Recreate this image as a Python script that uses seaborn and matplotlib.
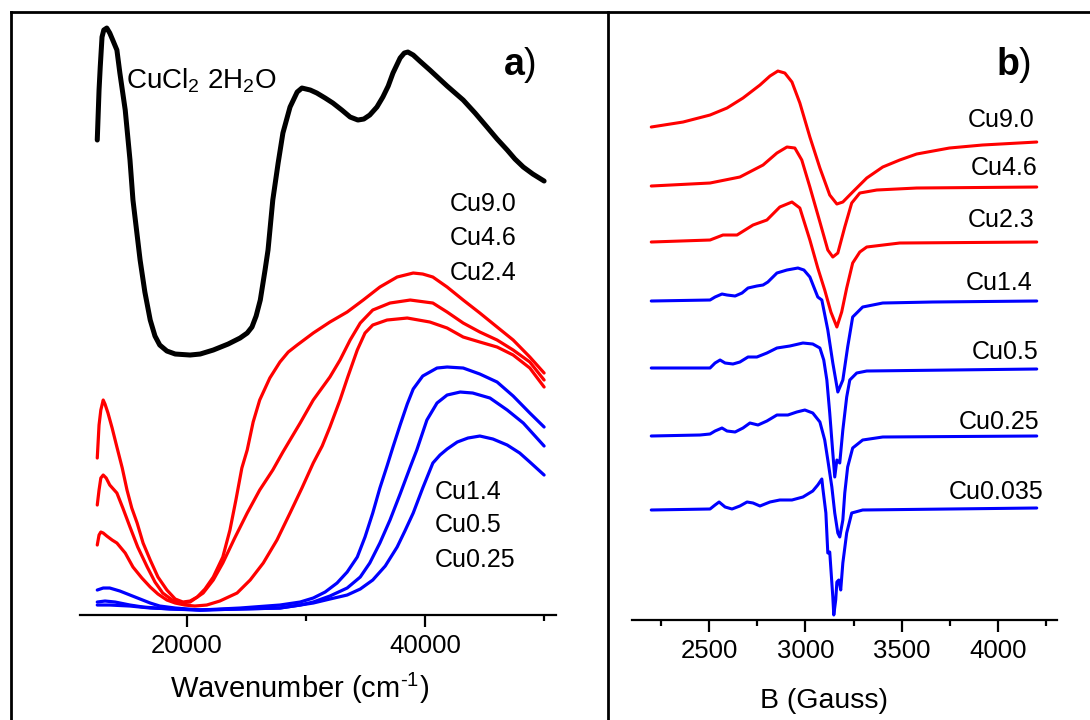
import matplotlib
matplotlib.use("Agg")
import matplotlib.pyplot as plt
import seaborn as sns
import pandas as pd
from matplotlib.lines import Line2D
from matplotlib.ticker import FixedLocator

# ---------------- a) UV-Vis absorption spectra (wavenumber, absorbance a.u.) ----------------
wn_cucl2 = [12450, 12600, 12700, 12850, 13000, 13250, 13500, 13750, 14100, 14350,
            14800, 15200, 15450, 15800, 16050, 16450, 16900, 17300, 17700, 18300,
            19000, 20250, 21100, 22200, 23450, 24450, 25050, 25450, 25800, 26150,
            26550, 26800, 27200, 27650, 28050, 28650, 29250, 29650, 30350, 30900,
            31600, 32250, 33000, 33700, 34350, 34850, 35350, 35950, 36450, 36900,
            37300, 37900, 38250, 38550, 39000, 39550, 40400, 41850, 43200, 44200,
            45200, 46050, 46900, 47550, 48250, 49050, 50000]
abs_cucl2 = [4.75, 5.25, 5.48, 5.78, 5.85, 5.87, 5.82, 5.75, 5.65, 5.42,
             5.05, 4.55, 4.15, 3.80, 3.55, 3.23, 2.95, 2.79, 2.70, 2.64,
             2.61, 2.60, 2.61, 2.65, 2.71, 2.77, 2.82, 2.88, 2.99, 3.15,
             3.45, 3.65, 4.15, 4.52, 4.82, 5.08, 5.23, 5.27, 5.25, 5.22,
             5.17, 5.12, 5.05, 4.98, 4.95, 4.96, 5.00, 5.08, 5.18, 5.29,
             5.42, 5.57, 5.62, 5.63, 5.60, 5.54, 5.45, 5.29, 5.15, 5.02,
             4.88, 4.76, 4.65, 4.56, 4.48, 4.41, 4.34]

wn_cu90 = [12450, 12600, 12750, 12950, 13100, 13350, 13700, 14100, 14550, 14950,
           15350, 15800, 16300, 16900, 17550, 18300, 19000, 19650, 20250, 20850,
           21500, 22200, 23000, 23600, 24100, 24600, 25050, 25550, 26100, 26950,
           27800, 28500, 29250, 30600, 32000, 33450, 34800, 36200, 37650, 39000,
           39800, 40650, 41850, 43200, 44600, 46050, 47400, 48800, 50000]
abs_cu90 = [1.57, 1.90, 2.05, 2.15, 2.11, 2.02, 1.87, 1.68, 1.47, 1.25,
            1.07, 0.92, 0.72, 0.55, 0.38, 0.25, 0.16, 0.13, 0.14, 0.18,
            0.26, 0.38, 0.58, 0.85, 1.15, 1.47, 1.65, 1.93, 2.15, 2.37,
            2.53, 2.63, 2.70, 2.82, 2.93, 3.03, 3.15, 3.28, 3.38, 3.42,
            3.41, 3.38, 3.28, 3.15, 3.02, 2.88, 2.75, 2.58, 2.42]

wn_cu46 = [12450, 12600, 12750, 12950, 13200, 13500, 14100, 14600, 15200, 15850,
           16650, 17300, 17950, 18750, 19400, 20250, 21350, 22200, 23000, 24000,
           25050, 26100, 27200, 28050, 29500, 30600, 32000, 32850, 33700, 34550,
           35600, 37050, 38750, 40650, 41850, 43200, 44600, 46050, 47400, 48800, 50000]
abs_cu46 = [1.10, 1.25, 1.37, 1.40, 1.37, 1.30, 1.22, 1.07, 0.88, 0.68,
            0.48, 0.33, 0.22, 0.15, 0.12, 0.13, 0.22, 0.35, 0.52, 0.77,
            1.02, 1.25, 1.45, 1.63, 1.92, 2.15, 2.38, 2.55, 2.75, 2.92,
            3.05, 3.12, 3.15, 3.12, 3.03, 2.92, 2.83, 2.75, 2.65, 2.53, 2.35]

wn_cu24 = [12450, 12600, 12750, 12950, 13250, 13700, 14100, 14800, 15450, 16200,
           16900, 17550, 18300, 19000, 19800, 20650, 21650, 22750, 24200, 25300,
           26400, 27550, 28650, 29650, 30600, 31350, 32000, 32850, 33500, 34300,
           34950, 35600, 36800, 38500, 40400, 41850, 43200, 44600, 46050, 47400,
           48800, 50000]
abs_cu24 = [0.70, 0.80, 0.83, 0.82, 0.79, 0.75, 0.72, 0.62, 0.48, 0.37,
            0.28, 0.21, 0.15, 0.12, 0.10, 0.09, 0.10, 0.14, 0.22, 0.35,
            0.52, 0.75, 1.02, 1.27, 1.52, 1.69, 1.88, 2.15, 2.38, 2.65,
            2.82, 2.90, 2.95, 2.97, 2.93, 2.87, 2.78, 2.73, 2.68, 2.60,
            2.47, 2.28]

wn_cu14 = [12450, 12950, 13500, 14350, 15200, 16050, 16900, 17700, 19000, 21100,
           24450, 27800, 29500, 30600, 31600, 32600, 33450, 34300, 34950, 35600,
           36200, 36800, 37300, 37900, 38500, 39000, 39800, 41000, 41850, 43200,
           44600, 46050, 47400, 48800, 50000]
abs_cu14 = [0.25, 0.27, 0.27, 0.24, 0.20, 0.16, 0.12, 0.09, 0.07, 0.05,
            0.07, 0.10, 0.13, 0.17, 0.23, 0.32, 0.43, 0.58, 0.78, 1.02,
            1.27, 1.49, 1.68, 1.90, 2.11, 2.26, 2.39, 2.47, 2.48, 2.47,
            2.41, 2.33, 2.19, 2.02, 1.88]

wn_cu05 = [12450, 13100, 13950, 15200, 16300, 18550, 21100, 24450, 27800, 29500,
           30600, 32000, 33450, 34550, 35350, 36200, 37050, 37900, 38750, 39300,
           40150, 41000, 41850, 42950, 44000, 45450, 46900, 48250, 50000]
abs_cu05 = [0.13, 0.14, 0.13, 0.10, 0.08, 0.06, 0.05, 0.06, 0.07, 0.10,
            0.13, 0.19, 0.27, 0.38, 0.52, 0.72, 0.95, 1.21, 1.48, 1.65,
            1.95, 2.12, 2.20, 2.23, 2.22, 2.17, 2.05, 1.92, 1.69]

wn_cu025 = [12450, 13500, 15200, 16900, 21100, 24450, 27800, 29500, 30600, 32000,
            33450, 34550, 35600, 36650, 37650, 38300, 39000, 39800, 40650, 41250,
            41850, 42700, 43600, 44600, 45700, 46900, 47950, 48800, 50000]
abs_cu025 = [0.10, 0.10, 0.09, 0.07, 0.05, 0.06, 0.07, 0.10, 0.12, 0.16,
             0.20, 0.26, 0.35, 0.49, 0.68, 0.84, 1.02, 1.27, 1.52, 1.60,
             1.66, 1.73, 1.77, 1.79, 1.76, 1.70, 1.62, 1.53, 1.40]

# ---------------- b) EPR spectra (field in gauss, stacked derivative signal a.u.) ----------------
b_cu90 = [2200, 2365, 2505, 2593, 2676, 2764, 2816, 2857, 2893, 2930,
          2971, 3023, 3075, 3126, 3163, 3194, 3245, 3318, 3401, 3489,
          3577, 3747, 3918, 4200]
epr_cu90 = [4.93, 4.98, 5.05, 5.12, 5.22, 5.35, 5.44, 5.49, 5.47, 5.38,
            5.17, 4.83, 4.52, 4.25, 4.16, 4.18, 4.28, 4.42, 4.53, 4.60,
            4.66, 4.72, 4.75, 4.78]

b_cu46 = [2200, 2505, 2660, 2780, 2852, 2904, 2945, 2981, 3023, 3075,
          3116, 3142, 3168, 3204, 3240, 3282, 3370, 3577, 4200]
epr_cu46 = [4.34, 4.37, 4.43, 4.55, 4.67, 4.73, 4.72, 4.60, 4.33, 3.98,
            3.70, 3.63, 3.67, 3.93, 4.17, 4.27, 4.30, 4.32, 4.33]

b_cu23 = [2200, 2505, 2572, 2645, 2728, 2800, 2867, 2930, 2971, 3023,
          3064, 3100, 3132, 3163, 3188, 3214, 3245, 3282, 3318, 3489, 4200]
epr_cu23 = [3.78, 3.80, 3.85, 3.85, 3.95, 4.00, 4.13, 4.18, 4.12, 3.80,
            3.52, 3.30, 3.08, 2.93, 3.08, 3.32, 3.57, 3.68, 3.73, 3.77, 3.78]

b_cu14 = [2200, 2505, 2531, 2567, 2593, 2635, 2671, 2702, 2748, 2780,
          2805, 2852, 2904, 2961, 2992, 3023, 3064, 3085, 3116, 3142,
          3168, 3194, 3219, 3245, 3297, 3401, 3659, 4200]
epr_cu14 = [3.19, 3.20, 3.23, 3.26, 3.25, 3.24, 3.27, 3.32, 3.34, 3.35,
            3.38, 3.47, 3.50, 3.52, 3.50, 3.43, 3.23, 3.20, 2.90, 2.57,
            2.28, 2.40, 2.73, 3.03, 3.13, 3.17, 3.18, 3.19]

b_cu05 = [2200, 2505, 2531, 2557, 2583, 2624, 2660, 2702, 2748, 2800,
          2852, 2919, 2987, 3038, 3075, 3095, 3111, 3126, 3142, 3152,
          3163, 3178, 3194, 3214, 3230, 3266, 3318, 4200]
epr_cu05 = [2.52, 2.52, 2.57, 2.60, 2.57, 2.56, 2.58, 2.63, 2.63, 2.67,
            2.72, 2.74, 2.77, 2.76, 2.72, 2.60, 2.40, 2.07, 1.67, 1.43,
            1.60, 1.57, 1.90, 2.23, 2.40, 2.47, 2.49, 2.51]

b_cu025 = [2200, 2453, 2505, 2531, 2567, 2593, 2635, 2676, 2712, 2754,
           2800, 2852, 2909, 2955, 2997, 3038, 3075, 3100, 3116, 3137,
           3152, 3168, 3178, 3194, 3204, 3219, 3245, 3297, 3401, 4200]
epr_cu025 = [1.84, 1.85, 1.86, 1.89, 1.92, 1.89, 1.88, 1.92, 1.97, 1.95,
             1.99, 2.05, 2.05, 2.08, 2.10, 2.07, 1.98, 1.80, 1.60, 1.33,
             1.07, 0.87, 0.83, 1.00, 1.27, 1.53, 1.72, 1.80, 1.83, 1.84]

b_cu0035 = [2200, 2505, 2531, 2552, 2583, 2619, 2660, 2697, 2728, 2764,
            2816, 2867, 2930, 2987, 3038, 3064, 3085, 3090, 3106, 3116,
            3126, 3142, 3147, 3157, 3163, 3173, 3183, 3194, 3214, 3240,
            3297, 4200]
epr_cu0035 = [1.10, 1.11, 1.15, 1.18, 1.13, 1.11, 1.14, 1.18, 1.17, 1.14,
              1.18, 1.20, 1.20, 1.23, 1.29, 1.35, 1.41, 1.32, 1.07, 0.67,
              0.68, 0.23, 0.05, 0.20, 0.38, 0.40, 0.30, 0.57, 0.87, 1.07,
              1.10, 1.12]

uv_high = ["Cu9.0", "Cu4.6", "Cu2.4"]
uv_low = ["Cu1.4", "Cu0.5", "Cu0.25"]
epr_names = ["Cu9.0", "Cu4.6", "Cu2.3", "Cu1.4", "Cu0.5", "Cu0.25", "Cu0.035"]

RED = "#ff0000"
BLUE = "#0000ff"

sns.set_theme(style="white")
plt.rcParams["font.family"] = ["Liberation Sans", "DejaVu Sans"]
plt.rcParams["mathtext.fontset"] = "custom"
plt.rcParams["mathtext.rm"] = "Liberation Sans"
plt.rcParams["mathtext.it"] = "Liberation Sans:italic"
plt.rcParams["mathtext.bf"] = "Liberation Sans:bold"
plt.rcParams["mathtext.default"] = "regular"

fig = plt.figure(figsize=(10.9, 7.2), dpi=100)
fig.patch.set_facecolor("white")
ax1 = fig.add_axes([0.0734, 0.1458, 0.4367, 0.8375])
ax2 = fig.add_axes([0.5798, 0.1389, 0.3899, 0.8444])


def draw(ax, x, y, color, lw):
    df = pd.DataFrame({"x": x, "y": y})
    sns.lineplot(data=df, x="x", y="y", ax=ax, color=color, linewidth=lw,
                 sort=False, estimator=None, legend=False,
                 solid_joinstyle="round", solid_capstyle="round")


# panel a
draw(ax1, wn_cucl2, abs_cucl2, "black", 3.6)
for x, y in [(wn_cu14, abs_cu14), (wn_cu05, abs_cu05), (wn_cu025, abs_cu025)]:
    draw(ax1, x, y, BLUE, 2.3)
for x, y in [(wn_cu90, abs_cu90), (wn_cu46, abs_cu46), (wn_cu24, abs_cu24)]:
    draw(ax1, x, y, RED, 2.3)

# panel b
for x, y in [(b_cu14, epr_cu14), (b_cu05, epr_cu05), (b_cu025, epr_cu025), (b_cu0035, epr_cu0035)]:
    draw(ax2, x, y, BLUE, 2.2)
for x, y in [(b_cu90, epr_cu90), (b_cu46, epr_cu46), (b_cu23, epr_cu23)]:
    draw(ax2, x, y, RED, 2.2)

ax1.set_xlim(11000, 51000)
ax1.set_ylim(0, 6.03)
ax2.set_xlim(2100, 4305)
ax2.set_ylim(0, 6.08)

ax1.xaxis.set_major_locator(FixedLocator([20000, 40000]))
ax1.xaxis.set_minor_locator(FixedLocator([30000, 50000]))
ax2.xaxis.set_major_locator(FixedLocator([2500, 3000, 3500, 4000]))
ax2.xaxis.set_minor_locator(FixedLocator([2250, 2750, 3250, 3750, 4250]))

for ax in (ax1, ax2):
    ax.set_facecolor("none")
    ax.set_yticks([])
    ax.set_ylabel("")
    for side in ("left", "right", "top"):
        ax.spines[side].set_visible(False)
    ax.spines["bottom"].set_color("black")
    ax.spines["bottom"].set_linewidth(1.6)
    ax.tick_params(axis="x", which="major", bottom=True, direction="out",
                   length=8.5, width=1.6, colors="black", labelsize=18.5, pad=5)
    ax.tick_params(axis="x", which="minor", bottom=True, direction="out",
                   length=4.5, width=1.6, colors="black")

ax1.set_xlabel(r"Wavenumber (cm$^{\text{-1}}$)", fontsize=21, color="black")
ax1.xaxis.set_label_coords(0.462, -0.093)
ax2.set_xlabel("B (Gauss)", fontsize=20.5, color="black")
ax2.xaxis.set_label_coords(0.452, -0.112)

# labels, panel a
ax1.text(14870, 5.27, "CuCl$_2$ 2H$_2$O", fontsize=20, color="black", ha="left", va="baseline")
for name, y in zip(uv_high, [4.11, 3.77, 3.42]):
    ax1.text(42100, y, name, fontsize=18, color="black", ha="left", va="center")
for name, y in zip(uv_low, [1.23, 0.90, 0.55]):
    ax1.text(40830, y, name, fontsize=18, color="black", ha="left", va="center")
ax1.text(46550, 5.40, r"$\mathbf{a}$)", fontsize=27, color="black", ha="left", va="baseline")

# labels, panel b
label_x = [4190, 4205, 4190, 4180, 4210, 4215, 4235]
label_y = [5.00, 4.52, 4.00, 3.37, 2.68, 1.98, 1.28]
for name, x, y in zip(epr_names, label_x, label_y):
    ax2.text(x, y, name, fontsize=18, color="black", ha="right", va="center")
ax2.text(3991, 5.45, r"$\mathbf{b}$)", fontsize=27, color="black", ha="left", va="baseline")

# outer frame and panel divider
for xs, ys in [([0.0101, 1.0], [0.9833, 0.9833]),
               ([0.0101, 0.0101], [0.0, 0.9833]),
               ([0.5578, 0.5578], [0.0, 0.9833])]:
    fig.add_artist(Line2D(xs, ys, transform=fig.transFigure, color="black",
                          linewidth=2.0, solid_capstyle="projecting"))

fig.savefig("out.png", dpi=100)
